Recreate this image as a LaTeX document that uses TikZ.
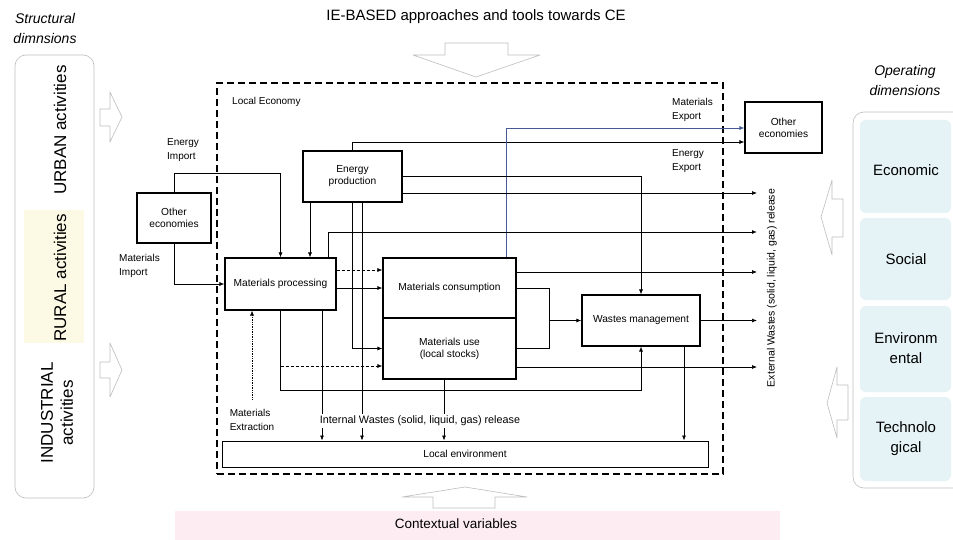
\documentclass[tikz,border=0pt]{standalone}
\usepackage{fontspec}
\setmainfont{Liberation Sans}
\usetikzlibrary{arrows.meta,calc}
\definecolor{ybg}{RGB}{252,250,228}
\definecolor{bbg}{RGB}{229,243,246}
\definecolor{pbg}{RGB}{253,236,241}
\definecolor{pgray}{RGB}{190,190,190}
\definecolor{blueline}{RGB}{70,90,150}
\begin{document}
\begin{tikzpicture}[x=1pt,y=-1pt,
  box/.style={draw, line width=1.1pt, inner sep=0pt, font=\fontsize{10.2}{12}\selectfont, align=center},
  conn/.style={line width=0.7pt},
  arr/.style={conn, -{Latex[length=5pt,width=4pt]}},
  lbl/.style={font=\fontsize{10}{13.5}\selectfont, align=left, inner sep=0pt},
  hollow/.style={draw=pgray, line width=0.6pt, fill=white, line join=round},
  big/.style={font=\fontsize{17}{20}\selectfont, align=center, inner sep=0pt},
  dim/.style={font=\fontsize{15}{20}\selectfont, align=center, inner sep=0pt},
  ttl/.style={font=\itshape\fontsize{14}{20}\selectfont, align=center, inner sep=0pt},
]
\useasboundingbox (0,0) rectangle (953,540);
\clip (0,0) rectangle (953,540);
\fill[white] (0,0) rectangle (953,540);

% ---------- background bands ----------
\fill[pbg] (175,511) rectangle (780,540);

% ---------- left panel ----------
\node[ttl] (ltitle) at (45,29) {Structural\\dimnsions};
\draw[pgray, line width=0.6pt, rounded corners=11pt] (15,55) rectangle (94,498);
\fill[ybg] (24,210) rectangle (84,343);
\node[big, rotate=90] (urban) at (60,130) {URBAN activities};
\node[big, rotate=90] (rural) at (60,278) {RURAL activities};
\node[big, rotate=90] (indus) at (57,413) {INDUSTRIAL\\activities};

% left hollow arrows (pointing right)
\draw[hollow] (100,109) -- (110,109) -- (110,92) -- (122,117) -- (110,142) -- (110,126) -- (100,126) -- cycle;
\draw[hollow] (100,362) -- (110,362) -- (110,343) -- (122,370) -- (110,397) -- (110,378) -- (100,378) -- cycle;

% ---------- right panel ----------
\node[ttl] (rtitle) at (905,81) {Operating\\dimensions};
\draw[pgray, line width=0.6pt, rounded corners=11pt] (853,112) rectangle (968,488);
\fill[bbg, rounded corners=6pt] (860,120) rectangle (951,213);
\fill[bbg, rounded corners=6pt] (860,218) rectangle (951,300);
\fill[bbg, rounded corners=6pt] (860,306) rectangle (951,392);
\fill[bbg, rounded corners=6pt] (860,397) rectangle (951,481);
\node[dim] (econ) at (906,170) {Economic};
\node[dim] (soc) at (906,259) {Social};
\node[dim] (env) at (906,348) {Environm\\ental};
\node[dim] (tech) at (906,439) {Technolo\\gical};

% right hollow arrows (pointing left)
\draw[hollow] (843,199) -- (832,199) -- (832,180) -- (821,217) -- (832,255) -- (832,237) -- (843,237) -- cycle;
\draw[hollow] (848,385) -- (837,385) -- (837,367) -- (827,403) -- (837,438) -- (837,420) -- (848,420) -- cycle;

% ---------- top and bottom ----------
\node[font=\fontsize{15}{18}\selectfont, inner sep=0pt] (ttop) at (476,17) {IE-BASED approaches and tools towards CE};
\draw[hollow] (445,43) -- (508,43) -- (508,55) -- (540,55) -- (476,77) -- (413,55) -- (445,55) -- cycle;
\draw[hollow] (433,508) -- (495,508) -- (495,497) -- (527,497) -- (465,487) -- (402,497) -- (433,497) -- cycle;
\node[font=\fontsize{13.5}{16}\selectfont, inner sep=0pt] (tbot) at (456,524) {Contextual variables};

% ---------- local economy frame ----------
\node[draw, line width=1.3pt, dash pattern=on 7pt off 4pt, minimum width=506pt, minimum height=391pt, inner sep=0pt] (frame) at (470,278.5) {};
\node[lbl, anchor=west] (leco) at (232,102) {Local Economy};

% ---------- boxes ----------
\node[box, minimum width=74pt, minimum height=50pt] (oeL) at (174,218) {Other\\economies};
\node[box, minimum width=77pt, minimum height=51pt] (oeR) at (783.5,127.5) {Other\\economies};
\node[box, minimum width=111pt, minimum height=52pt] (mp) at (280.5,284) {Materials processing};
\node[box, minimum width=99pt, minimum height=51pt] (ep) at (352.5,176.5) {Energy\\production};
\node[box, minimum width=133pt, minimum height=60pt] (mc) at (449.5,288) {Materials consumption};
\node[box, minimum width=133pt, minimum height=61pt] (mu) at (449.5,348.5) {Materials use\\(local stocks)};
\node[box, minimum width=118pt, minimum height=51pt] (wm) at (641,320.5) {Wastes management};
\node[box, line width=1pt, minimum width=486pt, minimum height=26pt] (le) at (465,454) {Local environment};

% ---------- flow labels ----------
\node[lbl, anchor=west] (eimp) at (167,150) {Energy\\Import};
\node[lbl, anchor=west] (mimp) at (119,266) {Materials\\Import};
\node[lbl, anchor=west] (mexp) at (672,110) {Materials\\Export};
\node[lbl, anchor=west] (eexp) at (672,161) {Energy\\Export};
\node[lbl, anchor=center] (mex) at (252,420) {Materials\\Extraction};

% ---------- helper coordinates ----------
\coordinate (y128) at (0,128);
\coordinate (y142) at (0,142);
\coordinate (y173) at (0,173);
\coordinate (y193) at (0,193);
\coordinate (y232) at (0,232);
\coordinate (y270) at (0,270);
\coordinate (y272) at (0,272);
\coordinate (y366) at (0,366);
\coordinate (y367) at (0,367);
\coordinate (y390) at (0,390);
\coordinate (x310) at (310,0);
\coordinate (x322) at (322,0);
\coordinate (x328) at (328,0);
\coordinate (x362) at (362,0);
\coordinate (x444) at (444,0);
\coordinate (x506) at (506,0);
\coordinate (x684) at (684,0);
\coordinate (xe) at (757,0);
\coordinate (b1) at (549,288);
\coordinate (b2) at (549,348.5);

% ---------- connectors ----------
\draw[arr] (oeL.north) -- (oeL.north |- y173) -| (mp.north);
\draw[arr] (oeL.south) |- (mp.west);
\draw[arr] (ep.south -| x310) -- (mp.north -| x310);
\draw[arr] (ep.north) |- (oeR.west |- y142);
\draw[arr, blueline] (mc.north -| x506) |- (oeR.west |- y128);
\draw[arr] (ep.east) -| (wm.north);
\draw[arr] (ep.east |- y193) -- (xe |- y193);
\draw[arr, line width=0.9pt] (mp.north -| x328) |- (xe |- y232);
\draw[arr, densely dashed] (mp.east |- y270) -- (mc.west |- y270);
\draw[arr] (mp.east |- mc.west) -- (mc.west);
\draw[arr] (mc.east |- y272) -- (xe |- y272);
\draw[conn] (mc.east) -- (b1) -- (b2) -- (mu.east);
\draw[arr, line width=0.9pt] (b1 |- wm.west) -- (wm.west);
\draw[arr] (wm.east) -- (xe |- wm.east);
\draw[arr] (mu.east |- y367) -- (xe |- y367);
\draw[arr] (wm.south -| x684) -- (le.north -| x684);
\draw[arr] (mp.south) -- (mp.south |- y390) -| (wm.south);
\draw[arr, densely dashed] (mp.south |- y366) -- (mu.west |- y366);
\draw[arr] (ep.south) |- (mu.west);
\draw[arr] (ep.south -| x362) -- (le.north -| x362);
\draw[arr] (mp.south -| x322) -- (le.north -| x322);
\draw[arr] (mu.south -| x444) -- (le.north -| x444);
\draw[arr, densely dotted] ([yshift=10pt]mex.north) -- (mp.south -| mex.north);

% labels drawn over lines
\node[lbl, font=\fontsize{10.8}{13}\selectfont, fill=white, inner sep=2pt] (iw) at (420,421) {Internal Wastes (solid, liquid, gas) release};
\node[lbl, font=\fontsize{10.5}{13}\selectfont, rotate=90] (ext) at (772,288) {External Wastes (solid, liquid, gas) release};
\end{tikzpicture}
\end{document}
